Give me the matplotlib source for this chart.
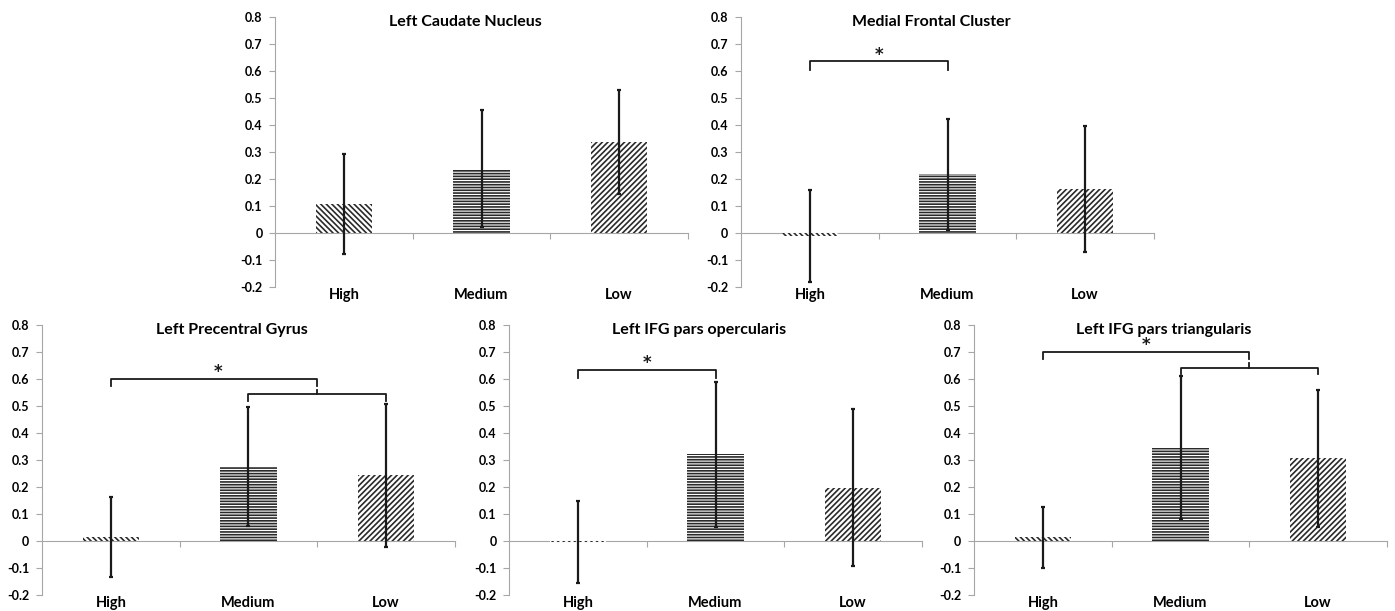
"""
Five-panel bar chart: mean values by High / Medium / Low with error bars
and significance brackets (Excel-style hatched bars)
"""

import matplotlib
matplotlib.use('Agg')
import matplotlib.pyplot as plt
from matplotlib import transforms

plt.rcParams['font.family'] = ['Lato', 'DejaVu Sans']
plt.rcParams['font.weight'] = 'bold'
plt.rcParams['hatch.linewidth'] = 1.2

# ---- data ----
categories = ['High', 'Medium', 'Low']

titles = ['Left Caudate Nucleus', 'Medial Frontal Cluster',
          'Left Precentral Gyrus', 'Left IFG pars opercularis',
          'Left IFG pars triangularis']

means = [
    [0.107, 0.238, 0.337],
    [-0.012, 0.218, 0.162],
    [0.016, 0.275, 0.244],
    [-0.004, 0.321, 0.198],
    [0.013, 0.346, 0.306],
]

errors = [
    [0.185, 0.217, 0.191],
    [0.170, 0.206, 0.234],
    [0.148, 0.220, 0.265],
    [0.153, 0.268, 0.290],
    [0.113, 0.264, 0.253],
]

# significance brackets: (x_left, x_right, height, drop)
brackets = [
    [],
    [(0, 1, 0.636, 0.034)],
    [(0, 1.5, 0.599, 0.025), (1, 2, 0.543, 0.023)],
    [(0, 1, 0.633, 0.031)],
    [(0, 1.5, 0.699, 0.026), (1, 2, 0.640, 0.023)],
]
# asterisk positions (x, y)
stars = [None, (0.5, 0.660), (0.78, 0.625), (0.5, 0.660), (0.75, 0.725)]

yticks = [-0.2, -0.1, 0, 0.1, 0.2, 0.3, 0.4, 0.5, 0.6, 0.7, 0.8]
ytick_labels = ['-0.2', '-0.1', '0', '0.1', '0.2', '0.3', '0.4', '0.5',
                '0.6', '0.7', '0.8']

hatches = ['\\\\\\\\\\\\', '------', '//////']

# ---- layout (figure fractions) ----
W, H = 1395, 611
panel_px = [(275, 17), (741, 17), (42, 325), (509, 325), (974, 325)]
pw, ph = 413, 270

fig = plt.figure(figsize=(W / 100, H / 100), dpi=100)

for i, (px, py) in enumerate(panel_px):
    ax = fig.add_axes([px / W, 1 - (py + ph) / H, pw / W, ph / H])
    x = range(len(categories))
    ax.bar(x, means[i], width=0.41, color='white', edgecolor='#2a2a2a',
           linewidth=0, hatch=hatches, zorder=2)
    ax.errorbar(x, means[i], yerr=errors[i], fmt='none', ecolor='#1a1a1a',
                elinewidth=1.6, capsize=1.5, capthick=1.6, zorder=3)

    for (xl, xr, h, d) in brackets[i]:
        ax.plot([xl, xl, xr, xr], [h - d, h, h, h - d], color='#1a1a1a',
                lw=1.3, solid_joinstyle='round', zorder=4)
    # second bracket joins upward into the first one
    if len(brackets[i]) == 2:
        xm = (brackets[i][1][0] + brackets[i][1][1]) / 2
        ax.plot([xm, xm], [brackets[i][1][2], brackets[i][1][2] + 0.018],
                color='#1a1a1a', lw=1.3, zorder=4)
    if stars[i] is not None:
        ax.text(stars[i][0], stars[i][1], '*', ha='center', va='center',
                fontsize=12, fontweight='bold', color='#1a1a1a',
                family='DejaVu Sans')

    ax.set_xlim(-0.5, 2.5)
    ax.set_ylim(-0.2, 0.8)
    ax.set_yticks(yticks)
    ax.set_yticklabels(ytick_labels, fontsize=9, fontweight='bold')
    ax.set_xticks([0.5, 1.5, 2.5])
    ax.set_xticklabels([])

    for s in ['top', 'right']:
        ax.spines[s].set_visible(False)
    ax.spines['bottom'].set_position(('data', 0))
    ax.spines['bottom'].set_color('#a6a6a6')
    ax.spines['left'].set_color('#a6a6a6')
    ax.spines['bottom'].set_zorder(1)
    ax.tick_params(axis='y', colors='#a6a6a6', length=4, width=0.8,
                   labelcolor='black', pad=5)
    ax.tick_params(axis='x', colors='#a6a6a6', length=4, width=0.8,
                   direction='out')

    trans = transforms.blended_transform_factory(ax.transData, ax.transAxes)
    for j, c in enumerate(categories):
        ax.text(j, -0.005, c, transform=trans, ha='center', va='top',
                fontsize=10.5, fontweight='bold')

    title_trans = transforms.blended_transform_factory(ax.transAxes,
                                                       ax.transData)
    ax.text(0.46, 0.78, titles[i], transform=title_trans, ha='center',
            va='center', fontsize=11.5, fontweight='bold')

fig.savefig('out.png', dpi=100)
